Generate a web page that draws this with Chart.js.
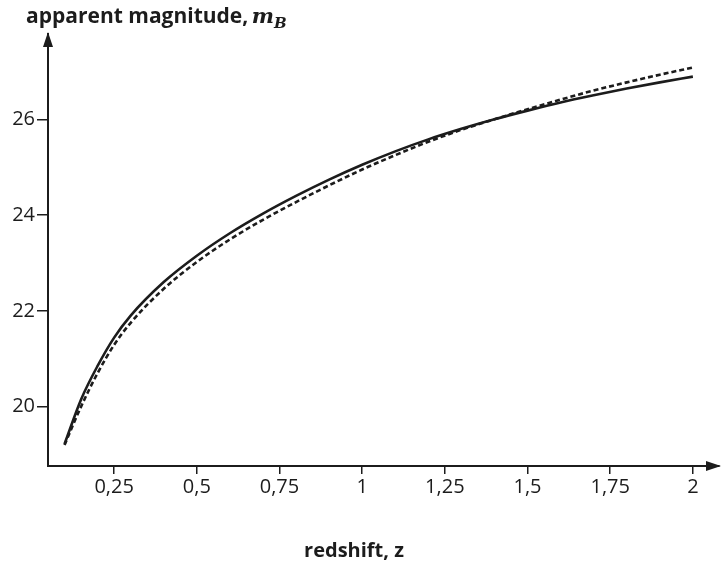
<!DOCTYPE html>
<html>
<head>
<meta charset="utf-8">
<script src="https://cdn.jsdelivr.net/npm/chart.js@4.4.1/dist/chart.umd.min.js"></script>
<style>
  html, body { margin: 0; padding: 0; background: #fff; }
  #wrap { width: 721px; height: 565px; position: relative; }
</style>
</head>
<body>
<div id="wrap"><canvas id="chart"></canvas></div>
<script>
// ── Data ──
const zValues  = [0.1, 0.15, 0.2, 0.25, 0.3, 0.4, 0.5, 0.6, 0.7, 0.8, 0.9, 1.0,
                  1.1, 1.2, 1.3, 1.4, 1.5, 1.6, 1.7, 1.8, 1.9, 2.0];
const mSolid   = [19.22, 20.15, 20.85, 21.44, 21.9, 22.6, 23.15, 23.62, 24.03, 24.4, 24.74, 25.05,
                  25.33, 25.58, 25.8, 26.0, 26.18, 26.35, 26.5, 26.64, 26.77, 26.89];
const mDashed  = [19.2, 20.0, 20.7, 21.29, 21.75, 22.46, 23.02, 23.49, 23.9, 24.27, 24.62, 24.95,
                  25.25, 25.53, 25.78, 26.0, 26.21, 26.41, 26.6, 26.77, 26.93, 27.08];
const xTicks   = [0.25, 0.5, 0.75, 1, 1.25, 1.5, 1.75, 2];
const yTicks   = [20, 22, 24, 26];
const yTitle   = 'apparent magnitude, ';
const xTitle   = 'redshift, z';

const INK = '#1c1c1c';
const FONT = "'Open Sans', 'Noto Sans', sans-serif";

const toPts = (xs, ys) => xs.map((x, i) => ({ x, y: ys[i] }));

// arrows + axis titles
const decor = {
  id: 'decor',
  afterDraw(chart) {
    const { ctx, chartArea: a } = chart;
    ctx.save();
    ctx.fillStyle = INK;
    // y arrow
    ctx.beginPath();
    ctx.moveTo(a.left, a.top - 2);
    ctx.lineTo(a.left - 5, a.top + 13);
    ctx.lineTo(a.left + 5, a.top + 13);
    ctx.closePath();
    ctx.fill();
    // x arrow
    ctx.beginPath();
    ctx.moveTo(a.right + 2, a.bottom);
    ctx.lineTo(a.right - 13, a.bottom - 5);
    ctx.lineTo(a.right - 13, a.bottom + 5);
    ctx.closePath();
    ctx.fill();

    // y title
    ctx.textBaseline = 'alphabetic';
    ctx.textAlign = 'left';
    ctx.font = "bold 21px " + FONT;
    ctx.fillText(yTitle, 26, 23);
    const w = ctx.measureText(yTitle).width;
    ctx.font = "italic bold 21px 'DejaVu Serif', 'Liberation Serif', serif";
    ctx.fillText('m', 24 + w, 23);
    const wm = ctx.measureText('m').width;
    ctx.font = "italic bold 15px 'DejaVu Serif', 'Liberation Serif', serif";
    ctx.fillText('B', 24 + w + wm, 28);

    // x title
    ctx.textAlign = 'center';
    ctx.font = "bold 20px " + FONT;
    ctx.fillText(xTitle, 354, 557);
    ctx.restore();
  }
};

new Chart(document.getElementById('chart'), {
  type: 'scatter',
  data: {
    datasets: [
      { data: toPts(zValues, mSolid), showLine: true, borderColor: INK, borderWidth: 2.6,
        pointRadius: 0, cubicInterpolationMode: 'monotone' },
      { data: toPts(zValues, mDashed), showLine: true, borderColor: INK, borderWidth: 2.6,
        borderDash: [5, 3], pointRadius: 0, cubicInterpolationMode: 'monotone' },
    ]
  },
  options: {
    responsive: true,
    maintainAspectRatio: false,
    animation: false,
    events: [],
    layout: { padding: { top: 34, right: 2, bottom: 0, left: 0 } },
    plugins: { legend: { display: false }, tooltip: { enabled: false } },
    scales: {
      x: {
        type: 'linear', min: 0.05, max: 2.079,
        afterFit: s => { s.height = 99; },
        afterBuildTicks: s => { s.ticks = xTicks.map(v => ({ value: v })); },
        grid: { drawOnChartArea: false, drawTicks: true, tickLength: 8, color: INK, lineWidth: 1.5 },
        border: { display: true, color: INK, width: 2 },
        ticks: { color: INK, padding: 1, maxRotation: 0, font: { family: FONT, size: 20 },
                 callback: v => String(v).replace('.', ',') },
      },
      y: {
        type: 'linear', min: 18.76, max: 27.78,
        afterFit: s => { s.width = 48; },
        afterBuildTicks: s => { s.ticks = yTicks.map(v => ({ value: v })); },
        grid: { drawOnChartArea: false, drawTicks: true, tickLength: 11, color: INK, lineWidth: 1.5 },
        border: { display: true, color: INK, width: 2 },
        ticks: { color: INK, padding: 2, font: { family: FONT, size: 20 } },
      }
    }
  },
  plugins: [decor]
});
</script>
</body>
</html>
